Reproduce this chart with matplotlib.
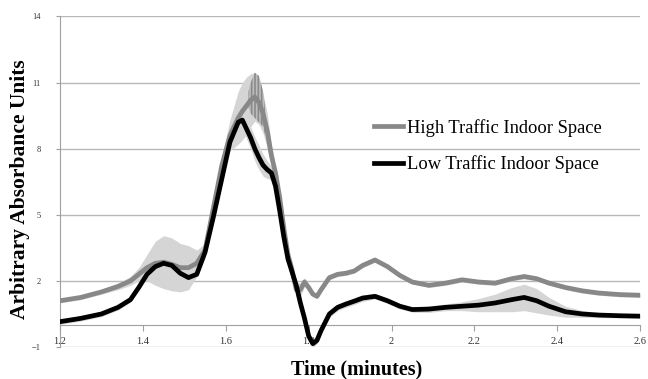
import matplotlib
matplotlib.use('Agg')
import matplotlib.pyplot as plt
import numpy as np

plt.rcParams['font.family'] = ['Liberation Serif', 'DejaVu Serif']
plt.rcParams['hatch.linewidth'] = 1.2

# retention time (minutes)
time = [1.20, 1.25, 1.30, 1.34, 1.37, 1.39, 1.41, 1.43, 1.45, 1.47, 1.49, 1.51, 1.53, 1.55,
        1.57, 1.59, 1.61, 1.63,
        1.64, 1.65, 1.66, 1.67, 1.68, 1.69, 1.70, 1.71, 1.72, 1.73, 1.74, 1.75, 1.76, 1.77,
        1.78, 1.79, 1.80, 1.81, 1.82, 1.83,
        1.85, 1.87, 1.89, 1.91, 1.93,
        1.96, 1.99, 2.02, 2.05,
        2.09, 2.13, 2.17, 2.21, 2.25, 2.29,
        2.32, 2.35, 2.38, 2.42, 2.46, 2.50, 2.55, 2.60]

high = [1.1, 1.25, 1.5, 1.75, 2.0, 2.3, 2.6, 2.8, 2.85, 2.75, 2.6, 2.6, 2.8, 3.4,
        5.3, 7.2, 8.6, 9.4,
        9.7, 9.95, 10.2, 10.35, 10.1, 9.6, 8.8, 7.7, 6.9, 5.8, 4.4, 3.2, 2.5, 1.6,
        1.6, 1.95, 1.7, 1.4, 1.3, 1.6,
        2.15, 2.3, 2.35, 2.45, 2.7,
        2.95, 2.65, 2.25, 1.95,
        1.8, 1.9, 2.05, 1.95, 1.9, 2.1,
        2.2, 2.1, 1.9, 1.7, 1.55, 1.45, 1.38, 1.35]

low = [0.15, 0.3, 0.5, 0.8, 1.15, 1.7, 2.3, 2.65, 2.8, 2.7, 2.35, 2.15, 2.3, 3.3,
       4.9, 6.6, 8.3, 9.2,
       9.3, 8.9, 8.5, 8.0, 7.6, 7.25, 7.05, 6.9, 6.3, 5.2, 4.0, 3.0, 2.4, 1.8,
       1.0, 0.3, -0.5, -0.85, -0.7, -0.25,
       0.5, 0.8, 0.95, 1.08, 1.22,
       1.3, 1.1, 0.85, 0.7,
       0.72, 0.8, 0.85, 0.9, 1.0, 1.15,
       1.25, 1.1, 0.85, 0.6, 0.5, 0.45, 0.42, 0.4]

high_sd = [0.1, 0.1, 0.1, 0.15, 0.2, 0.3, 0.6, 1.0, 1.2, 1.2, 1.1, 1.0, 0.6, 0.3,
           0.3, 0.4, 0.7, 1.2,
           1.3, 1.3, 1.2, 1.1, 1.0, 0.9, 0.8, 0.5, 0.3, 0.2, 0.2, 0.2, 0.25, 0.35,
           0.3, 0.2, 0.15, 0.1, 0.1, 0.1,
           0.1, 0.1, 0.1, 0.1, 0.1,
           0.1, 0.1, 0.1, 0.1,
           0.1, 0.1, 0.1, 0.1, 0.1, 0.1,
           0.1, 0.1, 0.1, 0.1, 0.1, 0.1, 0.1, 0.1]

low_sd = [0.12, 0.12, 0.12, 0.12, 0.12, 0.12, 0.12, 0.12, 0.12, 0.12, 0.12, 0.12, 0.12, 0.12,
          0.2, 0.25, 0.3, 0.3,
          0.35, 0.45, 0.5, 0.55, 0.55, 0.5, 0.4, 0.3, 0.2, 0.15, 0.15, 0.15, 0.15, 0.15,
          0.15, 0.15, 0.15, 0.15, 0.15, 0.15,
          0.15, 0.15, 0.15, 0.15, 0.15,
          0.12, 0.12, 0.12, 0.12,
          0.15, 0.15, 0.2, 0.3, 0.4, 0.55,
          0.6, 0.55, 0.4, 0.25, 0.15, 0.12, 0.1, 0.1]

# noisy replicate traces around the high-traffic apex
noise_time = [1.655, 1.66, 1.67, 1.68, 1.69, 1.695]
noise_lo = [9.9, 9.6, 9.4, 9.2, 9.0, 8.6]
noise_hi = [10.6, 11.0, 11.45, 11.3, 10.6, 9.8]

yticks = [-1, 2, 5, 8, 11, 14]
xticks = [1.2, 1.4, 1.6, 1.8, 2.0, 2.2, 2.4, 2.6]
xticklabels = ['1.2', '1.4', '1.6', '1.8', '2', '2.2', '2.4', '2.6']

t = np.array(time)
hi = np.array(high)
lo = np.array(low)
hs = np.array(high_sd)
ls = np.array(low_sd)

fig = plt.figure(figsize=(6.48, 3.79), dpi=100)
ax = fig.add_axes([0.0926, 0.0844, 0.8954, 0.8721])

band = '#d5d5d5'
ax.fill_between(t, hi - hs, hi + hs, color=band, lw=0, zorder=1)
ax.fill_between(t, lo - ls, lo + ls, color=band, lw=0, zorder=1)
ax.fill_between(noise_time, noise_lo, noise_hi, facecolor='#bdbdbd', edgecolor='#8a8a8a',
                hatch='|||||', lw=0, zorder=3)

ax.plot(t, hi, color='#888888', lw=3.4, solid_joinstyle='round',
        label='High Traffic Indoor Space', zorder=3)
ax.plot(t, lo, color='black', lw=3.4, solid_joinstyle='round',
        label='Low Traffic Indoor Space', zorder=4)

ax.set_xlim(1.2, 2.6)
ax.set_ylim(-1, 14)
ax.set_yticks(yticks)
ax.set_xticks(xticks)
ax.set_xticklabels(xticklabels)

ax.grid(axis='y', color='#b8b8b8', lw=1.0, zorder=0)
ax.set_axisbelow(True)
for s in ['top', 'right']:
    ax.spines[s].set_visible(False)
ax.spines['bottom'].set_position(('data', 0))
ax.spines['bottom'].set_color('#a0a0a0')
ax.spines['left'].set_color('#a0a0a0')

ax.tick_params(axis='y', length=3, color='#a0a0a0', labelsize=6, labelcolor='#333333', pad=11)
ax.tick_params(axis='x', length=4, color='#a0a0a0', labelsize=7.5, labelcolor='#333333', pad=5)

fig.text(0.031, 0.50, 'Arbitrary Absorbance Units', rotation=90, ha='center', va='center',
         fontsize=15.5, fontweight='bold')
fig.text(0.551, 0.025, 'Time (minutes)', ha='center', va='center',
         fontsize=14.5, fontweight='bold')

ax.legend(loc='center left', bbox_to_anchor=(0.551, 0.615), bbox_transform=fig.transFigure,
          frameon=False, fontsize=13.3, handlelength=1.6, handletextpad=0.2,
          labelspacing=1.0)

fig.savefig('out.png', dpi=100)
